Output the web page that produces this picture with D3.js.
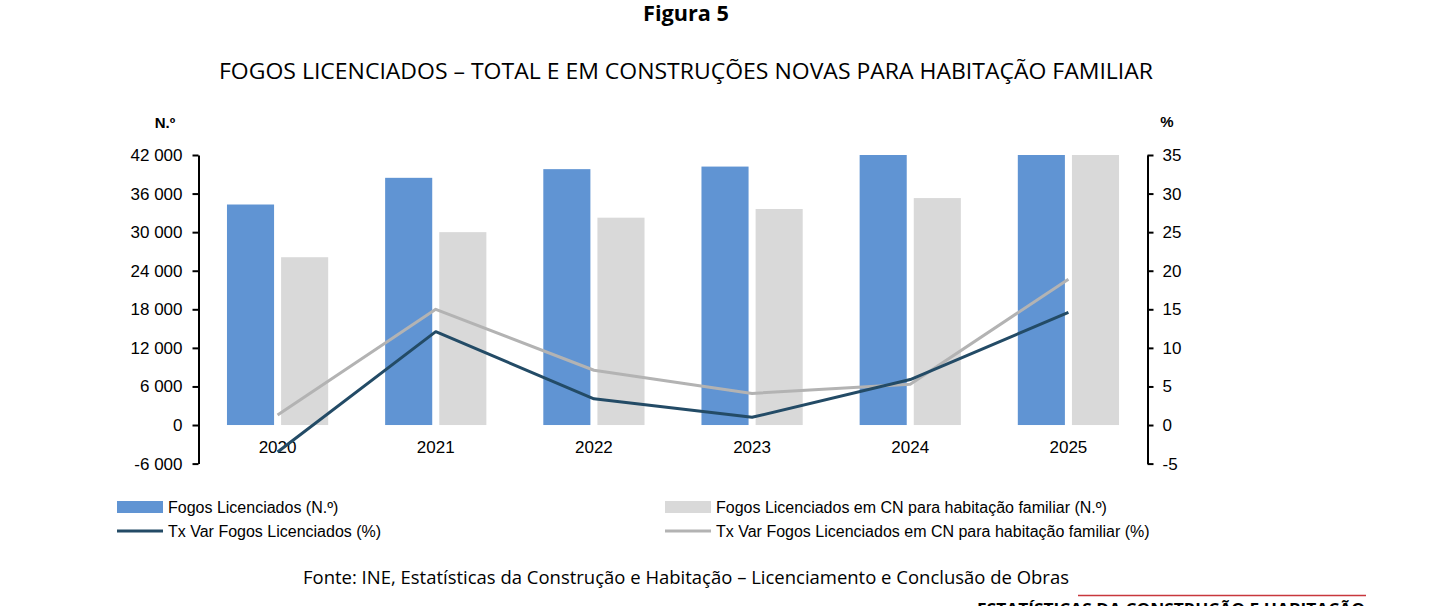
<!DOCTYPE html>
<html lang="pt">
<head>
<meta charset="UTF-8">
<title>Figura 5 - Fogos licenciados</title>
<script src="https://d3js.org/d3.v7.min.js"></script>
<style>
  body { margin: 0; background: #fff; }
  svg { display: block; }
  .axis text { font-family: "Liberation Sans", Arial, sans-serif; font-size: 17px; fill: #000; }
  .axis path, .axis line { stroke: #000; stroke-width: 2px; }
  .legend text { font-family: "Liberation Sans", Arial, sans-serif; font-size: 16px; fill: #000; }
</style>
</head>
<body>
<div id="chart"></div>
<script>
const years = ["2020", "2021", "2022", "2023", "2024", "2025"];
// N.º (left axis); 2024-2025 totals go beyond the 42 000 top and get clipped
const fogosTotal = [34300, 38450, 39800, 40200, 42600, 48800];
const fogosCN = [26100, 30000, 32250, 33600, 35300, 42000];
// % (right axis)
const txTotal = [-3.5, 12.1, 3.4, 1.0, 5.9, 14.6];
const txCN = [1.3, 15.0, 7.1, 4.1, 5.3, 18.9];
const leftTicks = [-6000, 0, 6000, 12000, 18000, 24000, 30000, 36000, 42000];
const rightTicks = [-5, 0, 5, 10, 15, 20, 25, 30, 35];

const W = 1444, H = 606;
const plotL = 198.5, plotR = 1147.5, plotT = 155, plotB = 463.6;
const blue = "#6094d3", lightGray = "#d9d9d9", navy = "#234b66", midGray = "#b3b3b3";

const svg = d3.select("#chart").append("svg")
  .attr("width", W).attr("height", H);

const x = d3.scaleBand().domain(years).range([plotL, plotR]);
const inner = d3.scaleBand().domain(["total", "cn"])
  .range([x.bandwidth() * 0.18, x.bandwidth() * 0.82])
  .paddingInner(0.13);
const yL = d3.scaleLinear().domain([-6000, 42000]).range([plotB, plotT]);
const yR = d3.scaleLinear().domain([-5, 35]).range([plotB, plotT]);

const fmt = v => d3.format(",")(v).replace(/,/g, " ").replace("−", "-");

// titles
svg.append("text")
  .attr("x", 686).attr("y", 21)
  .attr("text-anchor", "middle")
  .attr("textLength", 86).attr("lengthAdjust", "spacingAndGlyphs")
  .style("font-family", "'Open Sans', sans-serif").style("font-weight", "bold").style("font-size", "21px")
  .text("Figura 5");

svg.append("text")
  .attr("x", 686).attr("y", 79)
  .attr("text-anchor", "middle")
  .attr("textLength", 934).attr("lengthAdjust", "spacingAndGlyphs")
  .style("font-family", "'Open Sans', sans-serif").style("font-size", "21px")
  .text("FOGOS LICENCIADOS – TOTAL E EM CONSTRUÇÕES NOVAS PARA HABITAÇÃO FAMILIAR");

// unit labels
svg.append("text").attr("x", 165).attr("y", 128).attr("text-anchor", "middle")
  .style("font-family", "'Liberation Sans', Arial, sans-serif").style("font-weight", "bold").style("font-size", "15px")
  .text("N.º");
svg.append("text").attr("x", 1167).attr("y", 127).attr("text-anchor", "middle")
  .style("font-family", "'Liberation Sans', Arial, sans-serif").style("font-weight", "bold").style("font-size", "15px")
  .text("%");

// bars, clipped at the axis top
svg.append("clipPath").attr("id", "plotclip")
  .append("rect").attr("x", plotL).attr("y", plotT).attr("width", plotR - plotL).attr("height", plotB - plotT);

const bars = svg.append("g").attr("clip-path", "url(#plotclip)");
bars.selectAll("rect.total")
  .data(years.map((y, i) => ({ year: y, v: fogosTotal[i] })))
  .join("rect").attr("class", "total")
  .attr("x", d => x(d.year) + inner("total"))
  .attr("width", inner.bandwidth())
  .attr("y", d => yL(d.v))
  .attr("height", d => yL(0) - yL(d.v))
  .attr("fill", blue);
bars.selectAll("rect.cn")
  .data(years.map((y, i) => ({ year: y, v: fogosCN[i] })))
  .join("rect").attr("class", "cn")
  .attr("x", d => x(d.year) + inner("cn"))
  .attr("width", inner.bandwidth())
  .attr("y", d => yL(d.v))
  .attr("height", d => yL(0) - yL(d.v))
  .attr("fill", lightGray);

// axes
svg.append("g").attr("class", "axis")
  .attr("transform", `translate(${plotL},0)`)
  .call(d3.axisLeft(yL).tickValues(leftTicks).tickFormat(fmt).tickSize(6).tickSizeOuter(0).tickPadding(10));
svg.append("g").attr("class", "axis")
  .attr("transform", `translate(${plotR},0)`)
  .call(d3.axisRight(yR).tickValues(rightTicks).tickFormat(d => String(d).replace("−", "-")).tickSize(6).tickSizeOuter(0).tickPadding(9));

// year labels
svg.append("g").attr("class", "axis")
  .selectAll("text").data(years).join("text")
  .attr("x", d => x(d) + x.bandwidth() / 2)
  .attr("y", 453)
  .attr("text-anchor", "middle")
  .text(d => d);

// lines
const line = d3.line()
  .x((d, i) => x(years[i]) + x.bandwidth() / 2)
  .y(d => yR(d));
svg.append("path").datum(txCN)
  .attr("d", line).attr("fill", "none")
  .attr("stroke", midGray).attr("stroke-width", 3).attr("stroke-linejoin", "round");
svg.append("path").datum(txTotal)
  .attr("d", line).attr("fill", "none")
  .attr("stroke", navy).attr("stroke-width", 3).attr("stroke-linejoin", "round");

// legend
const legendItems = [
  { label: "Fogos Licenciados (N.º)", type: "rect", color: blue, x: 117, y: 507 },
  { label: "Fogos Licenciados em CN para habitação familiar (N.º)", type: "rect", color: lightGray, x: 665, y: 507 },
  { label: "Tx Var Fogos Licenciados (%)", type: "line", color: navy, x: 117, y: 531 },
  { label: "Tx Var Fogos Licenciados em CN para habitação familiar (%)", type: "line", color: midGray, x: 665, y: 531 }
];
const lg = svg.append("g").attr("class", "legend")
  .selectAll("g").data(legendItems).join("g")
  .attr("transform", d => `translate(${d.x},${d.y})`);
lg.filter(d => d.type === "rect").append("rect")
  .attr("x", 0).attr("y", -6).attr("width", 46).attr("height", 12)
  .attr("fill", d => d.color);
lg.filter(d => d.type === "line").append("line")
  .attr("x1", 0).attr("x2", 46).attr("y1", 0).attr("y2", 0)
  .attr("stroke", d => d.color).attr("stroke-width", 3);
lg.append("text").attr("x", 51).attr("y", 6).text(d => d.label);

// source
svg.append("text")
  .attr("x", 686).attr("y", 584)
  .attr("text-anchor", "middle")
  .attr("textLength", 766).attr("lengthAdjust", "spacingAndGlyphs")
  .style("font-family", "'Open Sans', sans-serif").style("font-size", "18px")
  .text("Fonte: INE, Estatísticas da Construção e Habitação – Licenciamento e Conclusão de Obras");

// page footer (cut by the page edge)
svg.append("line")
  .attr("x1", 1078).attr("x2", 1366).attr("y1", 595.5).attr("y2", 595.5)
  .attr("stroke", "#c8373c").attr("stroke-width", 1.5);
svg.append("text")
  .attr("x", 977).attr("y", 615)
  .attr("textLength", 388).attr("lengthAdjust", "spacingAndGlyphs")
  .style("font-family", "'Open Sans', sans-serif").style("font-weight", "bold").style("font-size", "16px")
  .text("ESTATÍSTICAS DA CONSTRUÇÃO E HABITAÇÃO");
</script>
</body>
</html>
